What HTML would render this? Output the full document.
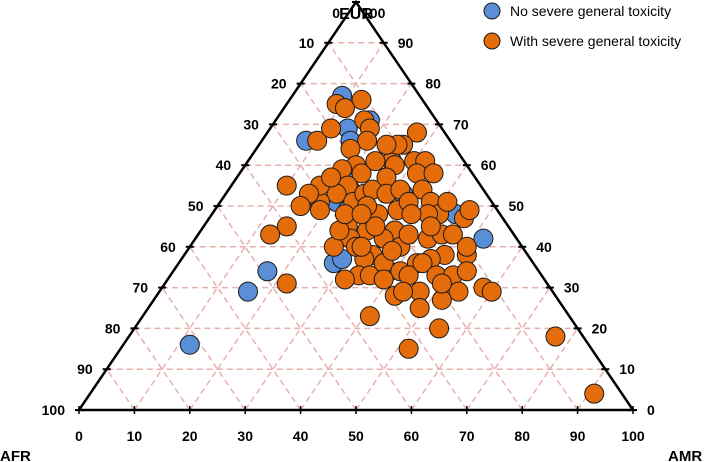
<!DOCTYPE html>
<html><head><meta charset="utf-8"><style>
body{margin:0;background:#fff}
svg{display:block;font-family:"Liberation Sans",sans-serif;font-weight:bold}
</style></head><body>
<svg id="chart" width="709" height="462" viewBox="0 0 709 462"></svg>
<script>
// [EUR, AMR] compositions (AFR = 100 - EUR - AMR)
const blueEur=[77,66,69,66,34,29,16,51,49,54,36,37,34,53,48,42,59,44,71];
const blueAmr=[9,8,14,16,17,16,12,21,24,22,28,29,39,32,44,52,20,35,17];
const orangeEur=[75,76,74,66,69,71,69,66,64,60,59,58,55,53,51,55,57,55,53,50,49,45,43,51,53,54,61,68,65,60,61,61,57,61,53,54,58,58,54,49,51,51,48,48,48,44,48,50,45,44,42,38,37,42,40,33,32,33,36,40,43,42,43,43,38,37,36,34,32,28,33,36,33,33,38,34,29,27,29,29,31,30,29,40,47,23,25,20,15,31,18,4,40,45,39,40,44,48,65,65,48,45,51,49];
const orangeAmr=[9,13,11,10,11,16,18,19,17,20,18,22,21,20,18,16,17,10,15,15,19,15,13,24,25,26,26,27,26,27,30,32,27,23,29,31,32,35,35,33,34,38,41,39,36,35,30,27,26,30,34,34,33,28,26,34,32,36,37,38,38,42,44,46,47,45,43,41,39,43,43,44,48,51,51,53,54,52,47,44,50,58,60,50,46,41,49,55,52,22,77,91,30,31,37,31,25,24,25,23,27,41,41,46];
const tickVals=[0,10,20,30,40,50,60,70,80,90,100];

const NS="http://www.w3.org/2000/svg";
const svg=document.getElementById('chart');
const X0=79,X1=633,YB=410,YT=2;
function px(eur,amr){return X0+(amr+eur/2)/100*(X1-X0);}
function py(eur){return YB-eur/100*(YB-YT);}
function mk(tag,attrs,parent){const e=document.createElementNS(NS,tag);for(const k in attrs)e.setAttribute(k,attrs[k]);(parent||svg).appendChild(e);return e;}

const grid=mk('g',{});


for(let v=10;v<100;v+=10){
  mk('line',{x1:px(v,0),y1:py(v),x2:px(v,100-v),y2:py(v),stroke:'#e8b0ac','stroke-width':1.5,'stroke-dasharray':'6,4'},grid);
  mk('line',{x1:px(0,v),y1:py(0),x2:px(100-v,v),y2:py(100-v),stroke:'#e8b0ac','stroke-width':1.5,'stroke-dasharray':'6,4'},grid);
  mk('line',{x1:px(0,100-v),y1:py(0),x2:px(100-v,0),y2:py(100-v),stroke:'#e8b0ac','stroke-width':1.5,'stroke-dasharray':'6,4'},grid);
}
const tri=mk('polygon',{points:`${X0},${YB} ${X1},${YB} ${px(100,0)},${YT}`,fill:'none',stroke:'#000','stroke-width':2.5});



const ticks=mk('g',{});


tickVals.forEach(v=>{
  let x=px(0,v);
  mk('line',{x1:x-4,y1:YB,x2:x+4,y2:YB,stroke:'#000','stroke-width':2},ticks);
  mk('line',{x1:x,y1:YB-4,x2:x,y2:YB+4,stroke:'#000','stroke-width':1.5},ticks);
  let t=mk('text',{x:x,y:441,'text-anchor':'middle','font-size':14},ticks);t.textContent=v;
  
  
  x=px(v,0);let y=py(v);
  mk('line',{x1:x-4,y1:y,x2:x+4,y2:y,stroke:'#000','stroke-width':2},ticks);
  t=mk('text',{x:v===100?x-16:x-14,y:v===100?y+16:y+5,'text-anchor':'end','font-size':14},ticks);t.textContent=100-v;
  
  
  x=px(v,100-v);
  mk('line',{x1:x-4,y1:y,x2:x+4,y2:y,stroke:'#000','stroke-width':2},ticks);
  t=mk('text',{x:v===100?x+6:x+14,y:v===100?y+16:y+5,'text-anchor':'start','font-size':14},ticks);t.textContent=v;
  
  
});
let lab=mk('text',{x:0,y:461,'font-size':15});lab.textContent='AFR';


lab=mk('text',{x:668,y:461,'font-size':15});lab.textContent='AMR';


lab=mk('text',{x:356,y:19,'font-size':16,'text-anchor':'middle'});lab.textContent='EUR';



const pts=mk('g',{});


blueEur.forEach((e,i)=>{
  const c=mk('circle',{cx:px(e,blueAmr[i]),cy:py(e),r:9.5,fill:'#5a8fd8',stroke:'#1a1a1a','stroke-width':1},pts);
  
  
});
orangeEur.forEach((e,i)=>{
  const c=mk('circle',{cx:px(e,orangeAmr[i]),cy:py(e),r:9.5,fill:'#e46c0a',stroke:'#1a1a1a','stroke-width':1},pts);
  
  
});

const leg=mk('g',{});


[['#5a8fd8','No severe general toxicity',11],['#e46c0a','With severe general toxicity',41]].forEach(d=>{
  const c=mk('circle',{cx:492,cy:d[2],r:8,fill:d[0],stroke:'#1a1a1a','stroke-width':1},leg);
  
  
  const t=mk('text',{x:510,y:d[2]+5,'font-size':14,'font-weight':'normal'},leg);t.textContent=d[1];
  
  
});
</script>
</body></html>
